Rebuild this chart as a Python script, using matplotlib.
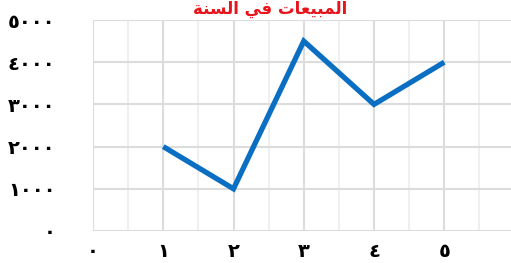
import matplotlib.pyplot as plt
from matplotlib.ticker import MultipleLocator

# data
months = [1, 2, 3, 4, 5]
sales = [2000, 1000, 4500, 3000, 4000]
xtick_vals = [0, 1, 2, 3, 4, 5]
xtick_labels = ['٠', '١', '٢', '٣', '٤', '٥']
ytick_vals = [0, 1000, 2000, 3000, 4000, 5000]
ytick_labels = ['٠', '١٠٠٠', '٢٠٠٠', '٣٠٠٠', '٤٠٠٠', '٥٠٠٠']
# "المبيعات في السنة" written in presentation forms, visual order (no shaping in matplotlib)
title = '\uFE94\uFEE8\uFEB4\uFEDF\uFE8D \uFEF2\uFED3 \uFE95\uFE8E\uFECC\uFEF4\uFE92\uFEE4\uFEDF\uFE8D'

fig = plt.figure(figsize=(5.11, 2.63), dpi=100)
ax = fig.add_axes([93 / 511, 32 / 263, 1 - 93 / 511, 211 / 263])

ax.plot(months, sales, color='#0a6fc2', linewidth=3.8, solid_capstyle='butt', solid_joinstyle='miter', zorder=3)

ax.set_xlim(0, 5.95)
ax.set_ylim(0, 5000)
ax.set_xticks(xtick_vals)
ax.set_xticklabels(xtick_labels, fontsize=14, fontweight='bold', family='DejaVu Sans')
ax.set_yticks(ytick_vals)
ax.set_yticklabels(ytick_labels, fontsize=14, fontweight='bold', family='DejaVu Sans')
ax.xaxis.set_minor_locator(MultipleLocator(0.5))
ax.tick_params(which='both', length=0)
ax.tick_params(axis='x', pad=8)
ax.tick_params(axis='y', pad=27)

ax.grid(True, which='major', axis='both', color='#dcdcdc', linewidth=1.5)
ax.grid(True, which='minor', axis='x', color='#ececec', linewidth=1.2)
ax.set_axisbelow(True)
for s in ax.spines.values():
    s.set_visible(False)

fig.text(270 / 511, 1.0, title, color='#e8141c', fontsize=12, fontweight='bold',
         ha='center', va='top', family='DejaVu Sans')

fig.savefig('out.png', dpi=100)
